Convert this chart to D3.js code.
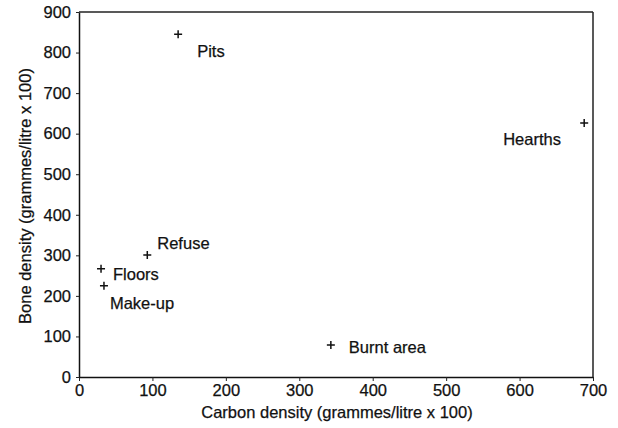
<!DOCTYPE html>
<html><head><meta charset="utf-8">
<script src="https://cdn.jsdelivr.net/npm/d3@7"></script>
<style>body{margin:0;background:#fff}svg{display:block}text{font-family:"Liberation Sans",Arial,sans-serif;fill:#111;stroke:#111;stroke-width:0.25px}</style>
</head><body>
<script>
const labels = ["Pits","Hearths","Refuse","Floors","Make-up","Burnt area"];
const carbon = [135, 688, 93, 30, 34, 343];
const bone = [845, 626, 301, 267, 225, 79];
const labelDx = [19, -81, 10, 12, 6, 18];
const labelDy = [17, 16, -12, 6, 17, 2];
const xTicks = [0,100,200,300,400,500,600,700];
const yTicks = [0,100,200,300,400,500,600,700,800,900];

const W = 618, H = 428;
const FS = 16.5;
const m = {left:79, right:25, top:12, bottom:51};
const svg = d3.select("body").append("svg").attr("width",W).attr("height",H);
const x = d3.scaleLinear().domain([0,700]).range([m.left, W-m.right]);
const y = d3.scaleLinear().domain([0,900]).range([H-m.bottom, m.top]);

const gx = svg.append("g").attr("transform",`translate(0,${y(0)})`)
  .call(d3.axisBottom(x).tickValues(xTicks).tickSize(4).tickSizeOuter(0).tickPadding(3));
const gy = svg.append("g").attr("transform",`translate(${x(0)},0)`)
  .call(d3.axisLeft(y).tickValues(yTicks).tickSize(3).tickSizeOuter(0).tickPadding(5));
[gx,gy].forEach(g=>{
  g.selectAll("text").attr("font-size",FS).attr("fill","#111").attr("font-family","Liberation Sans, Arial, sans-serif");
  g.selectAll("line").attr("stroke","#222");
  g.select(".domain").attr("stroke","#111").attr("stroke-width",1.5);
});
// frame top and right
svg.append("line").attr("x1",x(0)).attr("x2",x(700)).attr("y1",y(900)).attr("y2",y(900)).attr("stroke","#222").attr("stroke-width",1.3);
svg.append("line").attr("x1",x(700)).attr("x2",x(700)).attr("y1",y(900)).attr("y2",y(0)).attr("stroke","#222").attr("stroke-width",1.5);

const pts = svg.append("g");
labels.forEach((l,i)=>{
  const px = x(carbon[i]), py = y(bone[i]);
  pts.append("path").attr("d",`M${px-4},${py}H${px+4}M${px},${py-4}V${py+4}`).attr("stroke","#111").attr("stroke-width",1.5);
  pts.append("text").attr("x",px+labelDx[i]).attr("y",py+labelDy[i]).attr("dy","0.35em").attr("font-size",FS).text(l);
});

svg.append("text").attr("x",337).attr("y",418).attr("text-anchor","middle").attr("font-size",FS)
  .text("Carbon density (grammes/litre x 100)");
svg.append("text").attr("transform",`translate(31,196) rotate(-90)`).attr("text-anchor","middle").attr("font-size",FS)
  .text("Bone density (grammes/litre x 100)");
</script>
</body></html>
